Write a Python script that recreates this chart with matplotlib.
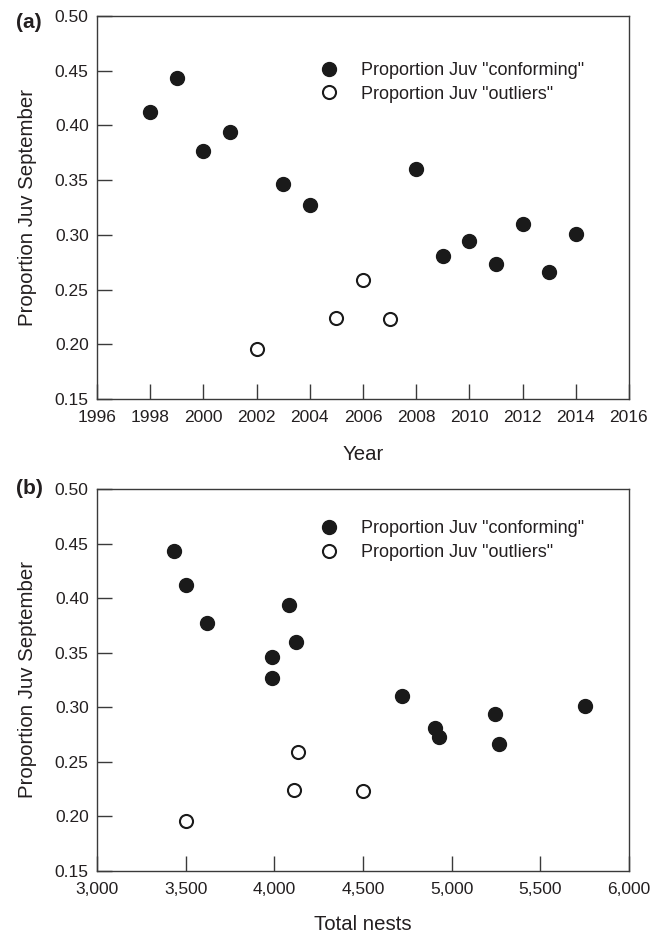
import matplotlib
matplotlib.use("Agg")
import matplotlib.pyplot as plt
from matplotlib.ticker import FuncFormatter, MultipleLocator

plt.rcParams["font.family"] = ["Liberation Sans", "DejaVu Sans"]

# values
years_conf = [1998, 1999, 2000, 2001, 2003, 2004, 2008, 2009, 2010, 2011, 2012, 2013, 2014]
prop_conf = [0.412, 0.443, 0.377, 0.394, 0.346, 0.327, 0.360, 0.281, 0.294, 0.273, 0.310, 0.266, 0.301]
nests_conf = [3500, 3432, 3623, 4082, 3986, 3986, 4125, 4906, 5245, 4930, 4720, 5269, 5751]

years_out = [2002, 2005, 2006, 2007]
prop_out = [0.196, 0.224, 0.259, 0.223]
nests_out = [3500, 4113, 4132, 4500]

LABEL_CONF = 'Proportion Juv "conforming"'
LABEL_OUT = 'Proportion Juv "outliers"'
YLABEL = "Proportion Juv September"

INK = "#231f20"
SPINE = "#3a3a3a"


def style_axes(ax):
    for sp in ax.spines.values():
        sp.set_color(SPINE)
        sp.set_linewidth(1.0)
    ax.tick_params(direction="in", length=10.5, width=1.0, color=SPINE,
                   labelsize=12.5, labelcolor=INK, top=False, right=False)
    ax.tick_params(axis="x", pad=8)
    ax.tick_params(axis="y", pad=6)
    ax.set_ylim(0.15, 0.50)
    ax.yaxis.set_major_locator(MultipleLocator(0.05))
    ax.yaxis.set_major_formatter(FuncFormatter(lambda v, p: f"{v:.2f}"))
    ax.set_ylabel(YLABEL, fontsize=14.7, color=INK)
    ax.yaxis.set_label_coords(-0.113, 0.5)


def draw_points(ax, xc, yc, xo, yo, legend_y):
    ax.plot(xc, yc, "o", ms=10, mfc="#1a1a1a", mec="#1a1a1a", mew=1.0,
            linestyle="none", label=LABEL_CONF, clip_on=False)
    ax.plot(xo, yo, "o", ms=9.4, mfc="white", mec="#1a1a1a", mew=1.5,
            linestyle="none", label=LABEL_OUT, clip_on=False)
    leg = ax.legend(loc="center left", bbox_to_anchor=(0.421, legend_y),
                    frameon=False, fontsize=13, borderpad=0, borderaxespad=0,
                    handlelength=0.95, handletextpad=1.25, labelspacing=0.36)
    for t in leg.get_texts():
        t.set_color(INK)


fig = plt.figure(figsize=(6.62, 9.34), dpi=100)
ax_a = fig.add_axes([0.1465, 0.5728, 0.8035, 0.4102])
ax_b = fig.add_axes([0.1465, 0.0675, 0.8035, 0.4089])

# (a) proportion by year
style_axes(ax_a)
draw_points(ax_a, years_conf, prop_conf, years_out, prop_out, 0.826)
ax_a.set_xlim(1996, 2016)
ax_a.xaxis.set_major_locator(MultipleLocator(2))
ax_a.set_xlabel("Year", fontsize=14.7, color=INK)
ax_a.xaxis.set_label_coords(0.5, -0.12)

# (b) proportion by total nests
style_axes(ax_b)
draw_points(ax_b, nests_conf, prop_conf, nests_out, prop_out, 0.865)
ax_b.set_xlim(3000, 6000)
ax_b.xaxis.set_major_locator(MultipleLocator(500))
ax_b.xaxis.set_major_formatter(FuncFormatter(lambda v, p: f"{v:,.0f}"))
ax_b.set_xlabel("Total nests", fontsize=14.7, color=INK)
ax_b.xaxis.set_label_coords(0.5, -0.116)

fig.text(0.044, 0.9764, "(a)", fontsize=15, fontweight="bold", color=INK,
         ha="center", va="center")
fig.text(0.045, 0.4775, "(b)", fontsize=15, fontweight="bold", color=INK,
         ha="center", va="center")

fig.savefig("out.png", dpi=100)
